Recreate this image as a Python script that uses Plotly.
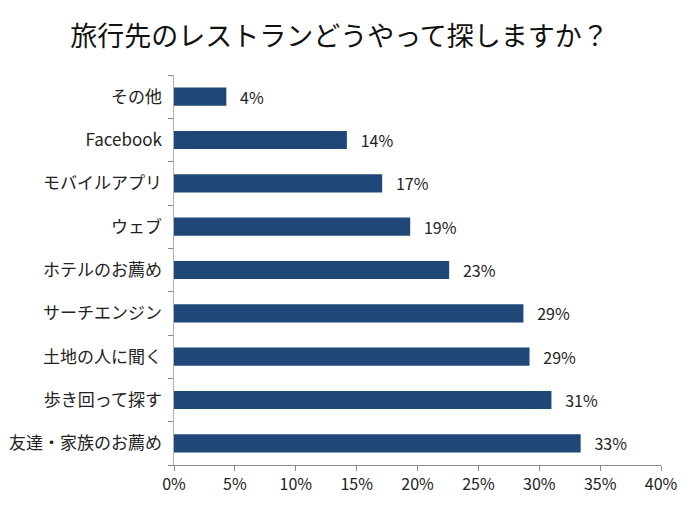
import plotly.graph_objects as go

# data (bottom -> top order as drawn)
categories = ['友達・家族のお薦め', '歩き回って探す', '土地の人に聞く', 'サーチエンジン',
              'ホテルのお薦め', 'ウェブ', 'モバイルアプリ', 'Facebook', 'その他']
values = [33.4, 31.0, 29.2, 28.7, 22.6, 19.4, 17.1, 14.2, 4.3]
labels = ['33%', '31%', '29%', '29%', '23%', '19%', '17%', '14%', '4%']
tick_vals = [0, 5, 10, 15, 20, 25, 30, 35, 40]
tick_text = ['0%', '5%', '10%', '15%', '20%', '25%', '30%', '35%', '40%']

font_jp = 'Noto Sans CJK JP'

fig = go.Figure()

fig.add_trace(go.Bar(
    x=values, y=categories, orientation='h',
    marker=dict(color='#1f4878', line=dict(width=0)),
    text=['   ' + t for t in labels], textposition='outside', cliponaxis=False,
    constraintext='none',
    textfont=dict(family=font_jp, size=16, color='#222222'),
    showlegend=False,
))

fig.update_layout(
    width=700, height=520,
    paper_bgcolor='white', plot_bgcolor='white',
    margin=dict(l=174, r=39, t=75, b=55),
    bargap=0.58,
    title=dict(text='旅行先のレストランどうやって探しますか？', x=0.485, y=0.93,
               xanchor='center', yanchor='middle',
               font=dict(family=font_jp, size=27, color='#111111')),
    font=dict(family=font_jp),
)

fig.update_xaxes(
    range=[0, 40], tickvals=tick_vals, ticktext=tick_text,
    showgrid=False, zeroline=False, automargin=False,
    showline=True, linecolor='#8a8a8a', linewidth=1,
    ticks='outside', ticklen=5, tickcolor='#8a8a8a',
    tickfont=dict(family=font_jp, size=16, color='#222222'),
)

fig.update_yaxes(
    showgrid=False, zeroline=False, automargin=False,
    showline=True, linecolor='#b0b0b0', linewidth=1,
    ticks='outside', ticklen=5, tickcolor='#8a8a8a', tickson='boundaries',
    tickfont=dict(family=font_jp, size=17, color='#222222'),
    ticksuffix='  ',
)

fig.write_html("out.html", config={'displayModeBar': False},
               post_script="document.body.style.margin='0';")
